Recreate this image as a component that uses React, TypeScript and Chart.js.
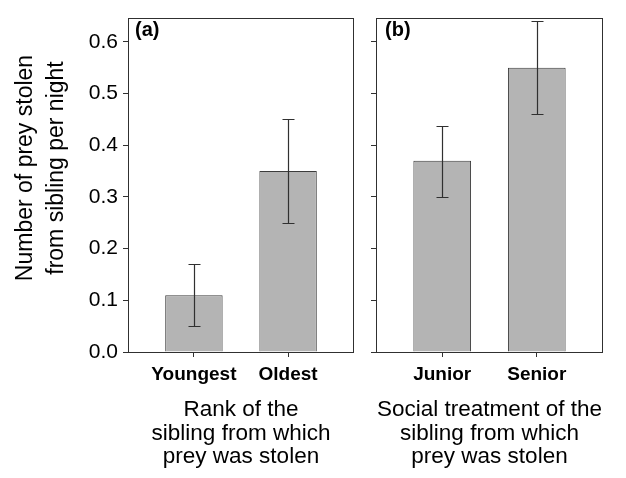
import React, { useEffect, useRef } from 'react';
import { Chart, registerables } from 'chart.js';

Chart.register(...registerables);

// ---------- data ----------
const xPositions = [1, 2];
const yTickValues = [0, 0.1, 0.2, 0.3, 0.4, 0.5, 0.6];

const panelACategories = ['Youngest', 'Oldest'];
const panelAMeans = [0.11, 0.35];
const panelALower = [0.05, 0.25];
const panelAUpper = [0.17, 0.45];
const panelATitle = ['Rank of the', 'sibling from which', 'prey was stolen'];

const panelBCategories = ['Junior', 'Senior'];
const panelBMeans = [0.37, 0.55];
const panelBLower = [0.3, 0.46];
const panelBUpper = [0.437, 0.64];
const panelBTitle = ['Social treatment of the', 'sibling from which', 'prey was stolen'];

const yTitleLines = ['Number of prey stolen', 'from sibling per night'];

// ---------- styles ----------
const FONT = "'Liberation Sans', Arial, Helvetica, sans-serif";
const FRAME = '#303030';
const BAR_FILL = '#b4b4b4';
const BAR_EDGE = '#3c3c3c';
const ERR = '#303030';
const TEXT = '#000000';

type Panel = {
  id: string;
  label: string;
  categories: string[];
  means: number[];
  lower: number[];
  upper: number[];
  xTitle: string[];
  showYLabels: boolean;
  yWidth: number;
  padRight: number;
  labelDx: number;
  drawYTitle: boolean;
};

const framePlugin = {
  id: 'panelFrame',
  afterDatasetsDraw(chart: any) {
    const { ctx, chartArea } = chart;
    const l = Math.round(chartArea.left) + 0.5;
    const t = Math.round(chartArea.top) + 0.5;
    const r = Math.round(chartArea.right) - 0.5;
    const b = Math.round(chartArea.bottom) + 0.5;
    ctx.save();
    ctx.strokeStyle = FRAME;
    ctx.lineWidth = 1;
    ctx.strokeRect(l, t, r - l, b - t);
    ctx.restore();
  },
};

function makeErrorBarPlugin(p: Panel) {
  return {
    id: 'errorBars' + p.id,
    afterDatasetsDraw(chart: any) {
      const { ctx } = chart;
      const xs = chart.scales.x;
      const ys = chart.scales.y;
      ctx.save();
      ctx.strokeStyle = ERR;
      ctx.lineWidth = 1.2;
      for (let i = 0; i < p.means.length; i++) {
        const x = Math.round(xs.getPixelForValue(xPositions[i])) + 0.5;
        const yLo = Math.round(ys.getPixelForValue(p.lower[i])) + 0.5;
        const yHi = Math.round(ys.getPixelForValue(p.upper[i])) + 0.5;
        const half = 6;
        ctx.beginPath();
        ctx.moveTo(x, yLo);
        ctx.lineTo(x, yHi);
        ctx.moveTo(x - half, yHi);
        ctx.lineTo(x + half, yHi);
        ctx.moveTo(x - half, yLo);
        ctx.lineTo(x + half, yLo);
        ctx.stroke();
      }
      ctx.restore();
    },
  };
}

function makeTextPlugin(p: Panel) {
  return {
    id: 'panelText' + p.id,
    afterDraw(chart: any) {
      const { ctx, chartArea } = chart;
      ctx.save();
      ctx.fillStyle = TEXT;
      ctx.font = `bold 20px ${FONT}`;
      ctx.textAlign = 'left';
      ctx.textBaseline = 'alphabetic';
      ctx.fillText(p.label, chartArea.left + p.labelDx, 36);
      if (p.drawYTitle) {
        ctx.font = `23px ${FONT}`;
        ctx.textAlign = 'center';
        ctx.textBaseline = 'middle';
        const xs = [26, 56.5];
        yTitleLines.forEach((line, i) => {
          ctx.save();
          ctx.translate(xs[i], 168);
          ctx.rotate(-Math.PI / 2);
          ctx.fillText(line, 0, 0);
          ctx.restore();
        });
      }
      ctx.restore();
    },
  };
}

function buildChart(canvas: HTMLCanvasElement, p: Panel) {
  return new Chart(canvas, {
    type: 'bar',
    data: {
      datasets: [
        {
          data: p.means.map((m, i) => ({ x: xPositions[i], y: m })),
          backgroundColor: BAR_FILL,
          borderColor: BAR_EDGE,
          borderWidth: 1,
          categoryPercentage: 1,
          barPercentage: 0.61,
        } as any,
      ],
    },
    options: {
      animation: false,
      responsive: false,
      devicePixelRatio: 1,
      layout: { padding: { left: 0, top: 10, right: p.padRight, bottom: 0 } },
      plugins: {
        legend: { display: false },
        tooltip: { enabled: false },
        title: { display: false },
      },
      scales: {
        x: {
          type: 'linear',
          min: 0.3,
          max: 2.7,
          offset: false,
          afterBuildTicks: (s: any) => {
            s.ticks = xPositions.map((v) => ({ value: v }));
          },
          afterFit: (s: any) => {
            s.height = 126;
          },
          grid: {
            offset: false,
            drawOnChartArea: false,
            drawTicks: true,
            tickLength: 5,
            color: FRAME,
          },
          border: { display: false },
          ticks: {
            autoSkip: false,
            maxRotation: 0,
            padding: 6,
            color: TEXT,
            font: { family: FONT, size: 19, weight: 'bold' },
            callback: (v: any) => {
              const i = xPositions.indexOf(Number(v));
              return i >= 0 ? p.categories[i] : '';
            },
          },
          title: {
            display: true,
            text: p.xTitle,
            color: TEXT,
            font: { family: FONT, size: 22.5, lineHeight: 1.05 },
            padding: { top: 0, bottom: 9 },
          },
        } as any,
        y: {
          type: 'linear',
          min: 0,
          max: 0.647,
          afterBuildTicks: (s: any) => {
            s.ticks = yTickValues.map((v) => ({ value: v }));
          },
          afterFit: (s: any) => {
            s.width = p.yWidth;
          },
          grid: {
            drawOnChartArea: false,
            drawTicks: true,
            tickLength: 5,
            color: FRAME,
          },
          border: { display: false },
          ticks: {
            padding: 5,
            color: TEXT,
            font: { family: FONT, size: 21 },
            callback: (v: any) => (p.showYLabels ? Number(v).toFixed(1) : ''),
          },
        } as any,
      },
    },
    plugins: [framePlugin, makeErrorBarPlugin(p), makeTextPlugin(p)],
  });
}

const panelA: Panel = {
  id: 'a',
  label: '(a)',
  categories: panelACategories,
  means: panelAMeans,
  lower: panelALower,
  upper: panelAUpper,
  xTitle: panelATitle,
  showYLabels: true,
  yWidth: 128,
  padRight: 11,
  labelDx: 7,
  drawYTitle: true,
};

const panelB: Panel = {
  id: 'b',
  label: '(b)',
  categories: panelBCategories,
  means: panelBMeans,
  lower: panelBLower,
  upper: panelBUpper,
  xTitle: panelBTitle,
  showYLabels: false,
  yWidth: 11,
  padRight: 23,
  labelDx: 9,
  drawYTitle: false,
};

export default function App() {
  const refA = useRef<HTMLCanvasElement>(null);
  const refB = useRef<HTMLCanvasElement>(null);

  useEffect(() => {
    const a = refA.current ? buildChart(refA.current, panelA) : null;
    const b = refB.current ? buildChart(refB.current, panelB) : null;
    return () => {
      a?.destroy();
      b?.destroy();
    };
  }, []);

  return (
    <div
      style={{
        position: 'absolute',
        left: 0,
        top: 0,
        width: 626,
        height: 478,
        background: '#ffffff',
        overflow: 'hidden',
      }}
    >
      <canvas
        ref={refA}
        width={365}
        height={478}
        style={{ position: 'absolute', left: 0, top: 0, width: 365, height: 478 }}
      />
      <canvas
        ref={refB}
        width={261}
        height={478}
        style={{ position: 'absolute', left: 365, top: 0, width: 261, height: 478 }}
      />
    </div>
  );
}
